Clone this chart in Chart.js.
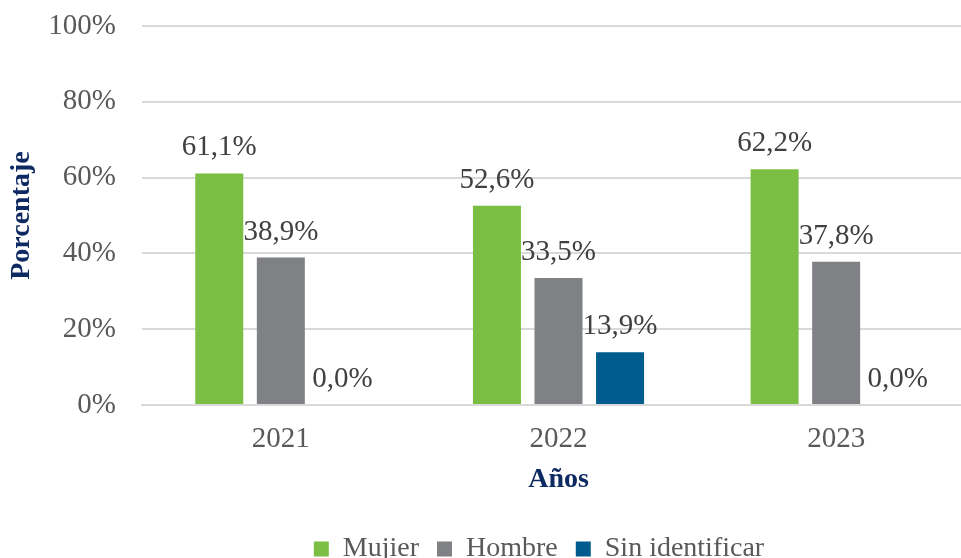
<!DOCTYPE html>
<html>
<head>
<meta charset="utf-8">
<script src="https://cdn.jsdelivr.net/npm/chart.js@4"></script>
<style>
  html, body { margin: 0; padding: 0; background: #fff; overflow: hidden; }
  #wrap { width: 1078px; height: 573px; }
</style>
</head>
<body>
<div id="wrap"><canvas id="c" width="1078" height="573"></canvas></div>
<script>
// porcentaje por sexo y año
const years = ['2021', '2022', '2023'];
const mujer = [61.1, 52.6, 62.2];
const hombre = [38.9, 33.5, 37.8];
const sinIdentificar = [0.0, 13.9, 0.0];
const yTicks = [0, 20, 40, 60, 80, 100];

const FONT = 'Liberation Serif, Times New Roman, serif';
const NAVY = '#0e2a62', TXT = '#595959', LBL = '#404040', GRID = '#d9d9d9';
const pct = v => v.toFixed(1).replace('.', ',') + '%';

// value labels above each bar
const barLabels = {
  id: 'barLabels',
  afterDatasetsDraw(chart) {
    const ctx = chart.ctx;
    ctx.save();
    ctx.font = '29px ' + FONT; ctx.fillStyle = LBL;
    ctx.textAlign = 'center'; ctx.textBaseline = 'alphabetic';
    chart.data.datasets.forEach((ds, i) => {
      chart.getDatasetMeta(i).data.forEach((bar, j) => {
        ctx.fillText(pct(ds.data[j]), bar.x, bar.y - 18);
      });
    });
    ctx.restore();
  }
};

const ds = (label, data, color) => ({
  label, data, backgroundColor: color, borderWidth: 0,
  categoryPercentage: 0.665, barPercentage: 0.78
});

new Chart(document.getElementById('c'), {
  type: 'bar',
  data: {
    labels: years,
    datasets: [
      ds('Mujier', mujer, '#7abf43'),
      ds('Hombre', hombre, '#808184'),
      ds('Sin identificar', sinIdentificar, '#005b8f')
    ]
  },
  options: {
    responsive: false, animation: false,
    layout: { padding: { top: 26, left: 0, right: 0, bottom: 0 } },
    plugins: {
      tooltip: { enabled: false },
      legend: {
        position: 'bottom',
        labels: { boxWidth: 15, boxHeight: 15, padding: 18, color: TXT, font: { family: FONT, size: 28 } }
      }
    },
    scales: {
      x: {
        grid: { display: false },
        border: { color: GRID, width: 2 },
        ticks: { color: TXT, padding: 9, font: { family: FONT, size: 29 } },
        title: { display: true, text: 'Años', color: NAVY, padding: { top: 0, bottom: 20 },
                 font: { family: FONT, size: 28, weight: 'bold' } },
        afterFit: s => { s.height = 112; }
      },
      y: {
        min: 0, max: 100,
        afterBuildTicks: s => { s.ticks = yTicks.map(v => ({ value: v })); },
        grid: { color: GRID, lineWidth: 2, drawTicks: false },
        border: { display: false },
        ticks: { color: TXT, padding: 26, font: { family: FONT, size: 29 }, callback: v => v + '%' },
        title: { display: true, text: 'Porcentaje', color: NAVY, padding: { top: 5, bottom: 0 },
                 font: { family: FONT, size: 28, weight: 'bold' } },
        afterFit: s => { s.width = 142; s.paddingTop = 0; s.paddingBottom = 0; }
      },
      // empty right-hand strip so the legend centres on the full width
      yRight: {
        position: 'right', display: true,
        grid: { display: false }, border: { display: false }, ticks: { display: false },
        afterFit: s => { s.width = 103; s.paddingTop = 0; s.paddingBottom = 0; }
      }
    }
  },
  plugins: [barLabels]
});
</script>
</body>
</html>
